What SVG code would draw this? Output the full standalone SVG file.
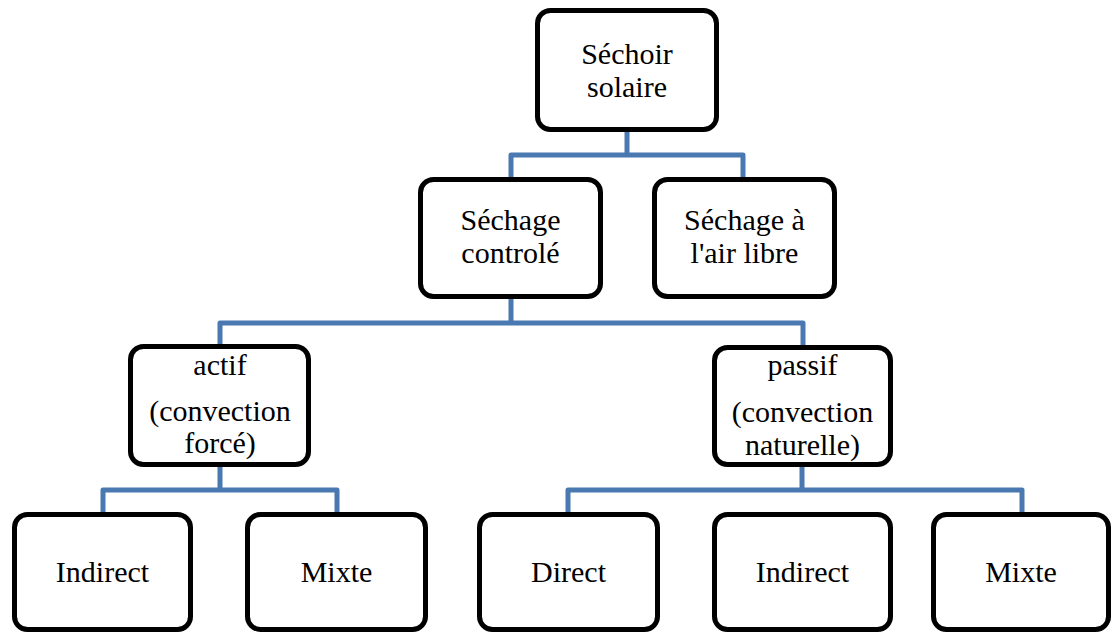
<svg xmlns="http://www.w3.org/2000/svg" width="1112" height="632" viewBox="0 0 1112 632">
<style>
.box{fill:#ffffff;stroke:#000000;stroke-width:5}
.conn{fill:none;stroke:#4a78b0;stroke-width:5;stroke-linejoin:round}
</style>
<rect width="1112" height="632" fill="#ffffff"/>
<g id="connectors">
<path class="conn" d="M627,130 V155 M511,179 V155 H743 V179"/>
<path class="conn" d="M511,297 V323 M220,346 V323 H803 V347"/>
<path class="conn" d="M220,465 V490 M103,514 V490 H337 V514"/>
<path class="conn" d="M802,465 V490 M568,514 V490 H1022 V514"/>
</g>
<g font-family="Liberation Serif, DejaVu Serif, serif" font-size="30" fill="#000000" text-anchor="middle">
<g id="sechoir-solaire">
<rect class="box" x="537.5" y="10.5" width="179" height="119" rx="13"/>
<text x="627" y="64">Séchoir</text>
<text x="627" y="97">solaire</text>
</g>
<g id="sechage-controle">
<rect class="box" x="420.5" y="179.5" width="180" height="117" rx="13"/>
<text x="510.5" y="230">Séchage</text>
<text x="510.5" y="263">controlé</text>
</g>
<g id="sechage-air-libre">
<rect class="box" x="654.5" y="179.5" width="180" height="117" rx="13"/>
<text x="744.5" y="230">Séchage à</text>
<text x="744.5" y="263">l'air libre</text>
</g>
<g id="actif">
<rect class="box" x="130.5" y="346.5" width="178" height="118" rx="13"/>
<text x="220" y="375">actif</text>
<text x="220" y="421">(convection</text>
<text x="220" y="453">forcé)</text>
</g>
<g id="passif">
<rect class="box" x="714.5" y="347.5" width="176" height="117" rx="13"/>
<text x="802.5" y="375">passif</text>
<text x="802.5" y="422">(convection</text>
<text x="802.5" y="455">naturelle)</text>
</g>
<g id="indirect-actif">
<rect class="box" x="14.5" y="514.5" width="176" height="115" rx="13"/>
<text x="102.5" y="582">Indirect</text>
</g>
<g id="mixte-actif">
<rect class="box" x="247.5" y="514.5" width="178" height="115" rx="13"/>
<text x="336.5" y="582">Mixte</text>
</g>
<g id="direct-passif">
<rect class="box" x="479.5" y="514.5" width="178" height="115" rx="13"/>
<text x="568.5" y="582">Direct</text>
</g>
<g id="indirect-passif">
<rect class="box" x="714.5" y="514.5" width="176" height="115" rx="13"/>
<text x="802.5" y="582">Indirect</text>
</g>
<g id="mixte-passif">
<rect class="box" x="933.5" y="514.5" width="175" height="115" rx="13"/>
<text x="1021" y="582">Mixte</text>
</g>
</g>
</svg>
